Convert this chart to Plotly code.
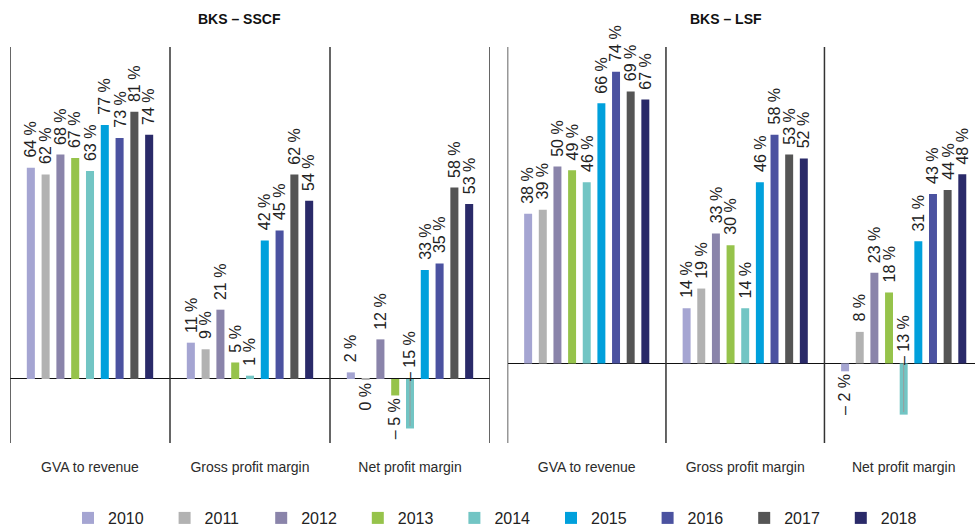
import plotly.graph_objects as go

years = ['2010', '2011', '2012', '2013', '2014', '2015', '2016', '2017', '2018']
colors = ['#a5a5d2', '#b2b2b2', '#8a84aa', '#96c34b', '#72c5c4',
          '#00a0dc', '#4b52a0', '#555555', '#2a2a69']
categories = ['GVA to revenue', 'Gross profit margin', 'Net profit margin']

# BKS – SSCF (values in %)
sscf_gva = [64, 62, 68, 67, 63, 77, 73, 81, 74]
sscf_gross = [11, 9, 21, 5, 1, 42, 45, 62, 54]
sscf_net = [2, -0.3, 12, -5, -15, 33, 35, 58, 53]

# BKS – LSF (values in %)
lsf_gva = [38, 39, 50, 49, 46, 66, 74, 69, 67]
lsf_gross = [14, 19, 33, 30, 14, 46, 58, 53, 52]
lsf_net = [-2, 8, 23, 18, -13, 31, 43, 44, 48]

W, H = 975, 526
BARGAP = 0.168
GROUPGAP = 0.456
FONT = 'Liberation Sans, Arial, sans-serif'
TXT = '#222222'

panels = [
    dict(title='BKS – SSCF', data=[sscf_gva, sscf_gross, sscf_net],
         xa='x', ya='y', dom=[10 / W, 490 / W], xr=[-0.5, 2.5], yr=[-19.4, 100.6], tx=239),
    dict(title='BKS – LSF', data=[lsf_gva, lsf_gross, lsf_net],
         xa='x2', ya='y2', dom=[507.5 / W, 1.0], xr=[-0.5, 2.45], yr=[-20.2, 80.3], tx=726),
]


def fmt(v):
    r = int(round(v))
    if r < 0:
        return f'– {abs(r)} %'
    return f'{r} %'


fig = go.Figure()
annotations = []
shapes = []
ydom = [83 / H, 1 - 47 / H]
n = len(years)
slot = (1 - BARGAP) / n

for pi, p in enumerate(panels):
    for yi, yr in enumerate(years):
        vals = [p['data'][c][yi] for c in range(len(categories))]
        fig.add_trace(go.Bar(
            x=categories, y=vals, name=yr, marker_color=colors[yi],
            marker_line_width=0, legendgroup=yr, showlegend=(pi == 0),
            xaxis=p['xa'], yaxis=p['ya'], hoverinfo='skip'))
        for ci, v in enumerate(vals):
            xpos = ci + (yi - (n - 1) / 2) * slot
            if v < -10:
                # long negative bar: label sits above the zero line with a leader line
                annotations.append(dict(
                    xref=p['xa'], yref=p['ya'], x=xpos, y=0, text=fmt(v),
                    textangle=-90, showarrow=False, yanchor='bottom', yshift=-4,
                    font=dict(size=16, color=TXT, family=FONT)))
                shapes.append(dict(type='line', xref=p['xa'], yref=p['ya'],
                                   x0=xpos, x1=xpos, y0=v * 0.95, y1=0,
                                   line=dict(color='#9a9a9a', width=1), layer='above'))
            elif v >= 0:
                annotations.append(dict(
                    xref=p['xa'], yref=p['ya'], x=xpos, y=v, text=fmt(v),
                    textangle=-90, showarrow=False, yanchor='bottom', yshift=8,
                    font=dict(size=16, color=TXT, family=FONT)))
            else:
                annotations.append(dict(
                    xref=p['xa'], yref=p['ya'], x=xpos, y=v, text=fmt(v),
                    textangle=-90, showarrow=False, yanchor='top', yshift=-1,
                    font=dict(size=16, color=TXT, family=FONT)))
    # group separators
    for b in range(len(categories) + 1):
        xb = b - 0.5
        if xb <= p['xr'][1]:
            shapes.append(dict(type='line', xref=p['xa'], yref=p['ya'] + ' domain',
                               x0=xb, x1=xb, y0=0, y1=1,
                               line=dict(color='#333333', width=1.5), layer='above'))
    annotations.append(dict(xref='paper', yref='paper', x=p['tx'] / W, y=1 - 19 / H,
                            text='<b>' + p['title'] + '</b>', showarrow=False,
                            xanchor='center', yanchor='middle',
                            font=dict(size=14, color='#111111', family=FONT)))

axis_common = dict(showgrid=False, zeroline=False, showline=False, ticks='',
                   tickfont=dict(size=14, color='#2b2b2b', family=FONT),
                   ticklabelstandoff=14, fixedrange=True)
yaxis_common = dict(showgrid=False, showticklabels=False, showline=False, ticks='',
                    zeroline=True, zerolinecolor='#111111', zerolinewidth=1,
                    fixedrange=True)

fig.update_layout(
    width=W, height=H,
    margin=dict(l=0, r=0, t=0, b=0, autoexpand=False),
    paper_bgcolor='white', plot_bgcolor='white',
    barmode='group', bargap=BARGAP, bargroupgap=GROUPGAP,
    font=dict(family=FONT, color=TXT),
    xaxis=dict(domain=panels[0]['dom'], range=panels[0]['xr'], anchor='y', **axis_common),
    xaxis2=dict(domain=panels[1]['dom'], range=panels[1]['xr'], anchor='y2', **axis_common),
    yaxis=dict(domain=ydom, range=panels[0]['yr'], anchor='x', **yaxis_common),
    yaxis2=dict(domain=ydom, range=panels[1]['yr'], anchor='x2', **yaxis_common),
    showlegend=True,
    legend=dict(orientation='h', x=68 / W, xanchor='left', y=8 / H, yanchor='middle',
                font=dict(size=16, color=TXT, family=FONT), entrywidth=51.6,
                bgcolor='rgba(0,0,0,0)', traceorder='normal'),
    annotations=annotations,
    shapes=shapes,
)

fig.write_html('out.html', config={'displayModeBar': False},
               post_script="document.body.style.margin='0';"
                           "document.body.style.overflow='hidden';")
